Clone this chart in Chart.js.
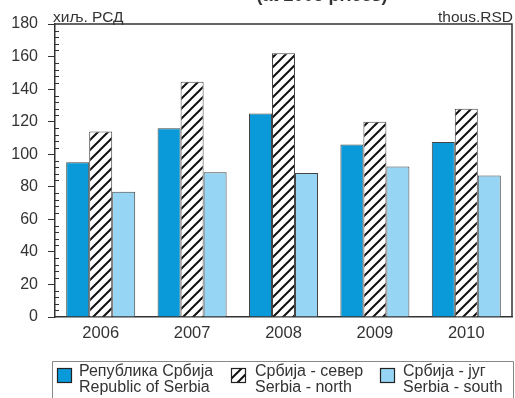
<!DOCTYPE html>
<html>
<head>
<meta charset="utf-8">
<script src="https://cdn.jsdelivr.net/npm/chart.js@4/dist/chart.umd.min.js"></script>
<style>
  html, body { margin: 0; padding: 0; background: #fff; }
  #wrap { width: 515px; height: 398px; position: relative; }
</style>
</head>
<body>
<div id="wrap"><canvas id="chart" width="515" height="398"></canvas></div>
<script>
// data
const years = ['2006', '2007', '2008', '2009', '2010'];
const serbia = [95, 116, 125, 106, 107.5];
const serbiaNorth = [114, 144.5, 162, 120, 128];
const serbiaSouth = [77, 89, 88.5, 92.5, 87];
const seriesLabels = [
    ['Република Србија', 'Republic of Serbia'],
    ['Србија - север', 'Serbia - north'],
    ['Србија - југ', 'Serbia - south']
];
const yTicks = [0, 20, 40, 60, 80, 100, 120, 140, 160, 180];

const FONT = 'Liberation Sans, Arial, sans-serif';
const INK = '#333';

function makeHatch() {
    const c = document.createElement('canvas');
    c.width = 10; c.height = 10;
    const g = c.getContext('2d');
    g.fillStyle = '#fff';
    g.fillRect(0, 0, 10, 10);
    g.strokeStyle = '#111';
    g.lineWidth = 2;
    g.beginPath();
    g.moveTo(-1, 11); g.lineTo(11, -1);
    g.moveTo(-1, 1); g.lineTo(1, -1);
    g.moveTo(9, 11); g.lineTo(11, 9);
    g.stroke();
    return g.createPattern(c, 'repeat');
}
const hatch = makeHatch();
const fills = ['#0a9ad9', hatch, '#97d5f5'];

// frame, minor ticks, unit labels, cut title, legend
const decor = {
    id: 'decor',
    afterDraw(chart) {
        const ctx = chart.ctx;
        const a = chart.chartArea;
        const y = chart.scales.y;
        ctx.save();

        ctx.strokeStyle = INK;
        ctx.lineWidth = 1.5;
        ctx.beginPath();
        ctx.moveTo(a.left, a.top);
        ctx.lineTo(a.right, a.top);
        ctx.lineTo(a.right, a.bottom);
        ctx.stroke();

        // minor ticks every 4
        ctx.lineWidth = 1;
        ctx.beginPath();
        for (let v = 4; v < 180; v += 4) {
            if (v % 20 === 0) continue;
            const py = Math.round(y.getPixelForValue(v)) + 0.5;
            ctx.moveTo(a.left, py);
            ctx.lineTo(a.left + 4, py);
        }
        ctx.stroke();

        ctx.fillStyle = INK;
        ctx.font = '15.5px ' + FONT;
        ctx.textBaseline = 'alphabetic';
        ctx.textAlign = 'left';
        ctx.fillText('хиљ. РСД', a.left - 2, a.top - 2);
        ctx.textAlign = 'right';
        ctx.fillText('thous.RSD', a.right + 1, a.top - 2);

        ctx.font = 'bold 18px ' + FONT;
        ctx.textAlign = 'center';
        ctx.fillText('(at 2005 prices)', 322, 1);

        // legend
        const lx = 52, lr = 513, ly = 361;
        ctx.strokeStyle = '#888';
        ctx.lineWidth = 1;
        ctx.beginPath();
        ctx.moveTo(lx + 0.5, 400);
        ctx.lineTo(lx + 0.5, ly + 0.5);
        ctx.lineTo(lr + 0.5, ly + 0.5);
        ctx.lineTo(lr + 0.5, 400);
        ctx.stroke();

        const boxX = [57, 231, 380];
        const textX = [79, 255, 403];
        ctx.font = '16px ' + FONT;
        ctx.textAlign = 'left';
        chart.data.datasets.forEach((ds, i) => {
            ctx.fillStyle = ds.backgroundColor;
            ctx.fillRect(boxX[i], 368, 14, 14);
            ctx.strokeStyle = '#222';
            ctx.lineWidth = 1.2;
            ctx.strokeRect(boxX[i] + 0.5, 368.5, 14, 14);
            ctx.fillStyle = INK;
            ds.label.forEach((line, k) => ctx.fillText(line, textX[i], 376 + k * 16));
        });
        ctx.restore();
    }
};

new Chart(document.getElementById('chart'), {
    type: 'bar',
    data: {
        labels: years,
        datasets: [serbia, serbiaNorth, serbiaSouth].map((d, i) => ({
            label: seriesLabels[i],
            data: d,
            backgroundColor: fills[i],
            borderColor: '#444',
            borderWidth: 1,
            categoryPercentage: 0.755,
            barPercentage: 1
        }))
    },
    options: {
        responsive: false,
        animation: false,
        layout: { padding: { top: 24, right: 3, left: 0, bottom: 0 } },
        plugins: { legend: { display: false }, tooltip: { enabled: false } },
        scales: {
            x: {
                grid: { display: false, drawTicks: false },
                border: { display: true, color: INK, width: 1.5 },
                ticks: { color: INK, font: { family: FONT, size: 16.5 }, padding: 7 },
                afterFit(s) { s.height = 81; }
            },
            y: {
                min: 0,
                max: 180,
                afterBuildTicks(s) { s.ticks = yTicks.map(v => ({ value: v })); },
                grid: { drawOnChartArea: false, drawTicks: true, tickLength: 7, color: INK },
                border: { display: true, color: INK, width: 1.5 },
                ticks: { color: INK, font: { family: FONT, size: 16 }, padding: 10 },
                afterFit(s) { s.width = 55; }
            }
        }
    },
    plugins: [decor]
});
</script>
</body>
</html>
